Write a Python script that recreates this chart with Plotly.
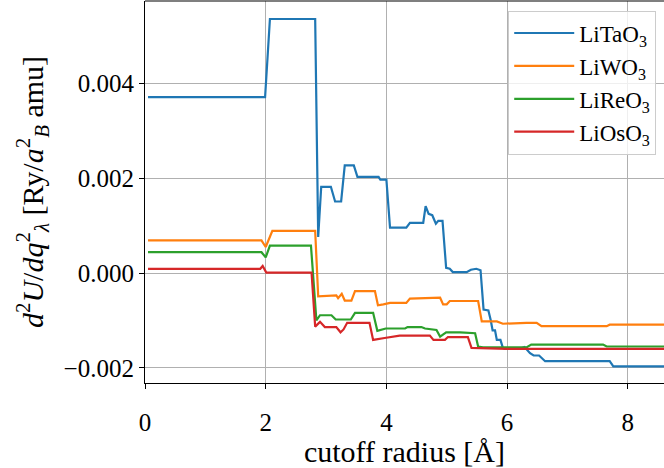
import plotly.graph_objects as go

# ---- data (values in units of 1e-3 Ry/(a_B^2 amu)) ----
names = ["LiTaO<sub>3</sub>", "LiWO<sub>3</sub>", "LiReO<sub>3</sub>", "LiOsO<sub>3</sub>"]
colors = ["#1f77b4", "#ff7f0e", "#2ca02c", "#d62728"]

ta_x = [0.05, 1.99, 2.07, 2.82, 2.87, 2.92, 3.08, 3.15, 3.25, 3.31, 3.46, 3.52, 3.87, 3.90, 4.0, 4.06,
        4.33, 4.39, 4.61, 4.65, 4.70, 4.76, 4.82, 4.86, 4.93, 4.99, 5.05, 5.10, 5.33, 5.40, 5.49, 5.56,
        5.61, 5.69, 5.73, 5.76, 5.80, 5.83, 5.89, 5.93, 5.96, 6.21, 6.29, 6.38, 6.44, 6.53, 6.63, 7.70,
        7.76, 8.6]
ta_y = [3.71, 3.71, 5.36, 5.36, 0.76, 1.82, 1.82, 1.51, 1.51, 2.27, 2.27, 2.03, 2.03, 1.97, 1.97, 0.96,
        0.96, 1.06, 1.06, 1.41, 1.25, 1.22, 1.04, 1.10, 1.10, 0.11, 0.09, 0.02, 0.02, 0.07, 0.09, 0.06,
        -0.77, -0.79, -1.00, -1.21, -1.21, -1.41, -1.41, -1.58, -1.60, -1.60, -1.56, -1.69, -1.74, -1.74,
        -1.86, -1.86, -1.97, -1.97]

w_x = [0.05, 1.93, 2.0, 2.11, 2.82, 2.87, 3.17, 3.20, 3.26, 3.31, 3.42, 3.48, 3.81, 3.86, 3.95, 4.06,
       4.33, 4.39, 4.89, 4.94, 5.0, 5.05, 5.52, 5.58, 5.83, 5.93, 6.32, 6.49, 6.57, 7.65, 7.70, 8.6]
w_y = [0.69, 0.69, 0.55, 0.89, 0.89, -0.49, -0.47, -0.53, -0.44, -0.58, -0.58, -0.38, -0.38, -0.68,
       -0.66, -0.63, -0.63, -0.54, -0.52, -0.66, -0.66, -0.59, -0.59, -1.02, -1.02, -1.07, -1.05, -1.05,
       -1.12, -1.12, -1.09, -1.09]

re_x = [0.05, 1.93, 2.0, 2.07, 2.75, 2.84, 2.90, 3.09, 3.16, 3.41, 3.48, 3.78, 3.85, 3.99, 4.31, 4.35,
        4.58, 4.64, 4.83, 4.89, 4.99, 5.22, 5.47, 5.52, 5.60, 6.32, 6.40, 7.59, 7.65, 8.6]
re_y = [0.44, 0.44, 0.33, 0.58, 0.58, -1.00, -0.89, -0.89, -0.98, -0.98, -0.84, -0.84, -1.22, -1.17,
        -1.17, -1.14, -1.14, -1.17, -1.20, -1.34, -1.25, -1.25, -1.27, -1.55, -1.57, -1.57, -1.51, -1.51,
        -1.55, -1.55]

os_x = [0.05, 1.91, 1.95, 2.01, 2.76, 2.82, 2.90, 2.98, 3.17, 3.24, 3.29, 3.35, 3.72, 3.78, 3.97, 4.22,
        4.72, 4.78, 4.97, 5.02, 5.35, 5.41, 6.0, 8.6]
os_y = [0.09, 0.09, 0.15, 0.01, 0.01, -1.13, -1.03, -1.14, -1.14, -1.25, -1.19, -1.05, -1.05, -1.41,
        -1.37, -1.32, -1.32, -1.41, -1.41, -1.35, -1.35, -1.58, -1.60, -1.60]

x_ticks = [0, 2, 4, 6, 8]
y_ticks = [-0.002, 0.0, 0.002, 0.004]
y_ticktext = ["\u22120.002", "0.000", "0.002", "0.004"]

series = [(ta_x, ta_y), (w_x, w_y), (re_x, re_y), (os_x, os_y)]

fig = go.Figure()
for (xs, ys), name, c in zip(series, names, colors):
    fig.add_trace(go.Scatter(x=xs, y=[v * 1e-3 for v in ys], mode="lines", name=name,
                             line=dict(color=c, width=2.2)))

font_family = "Liberation Serif"
fig.update_layout(
    width=664, height=468,
    margin=dict(l=145, r=0, t=1, b=85),
    paper_bgcolor="white", plot_bgcolor="white",
    font=dict(family=font_family, size=25, color="black"),
    showlegend=True,
    legend=dict(x=0.985, y=0.975, xanchor="right", yanchor="top",
                bgcolor="rgba(255,255,255,0.8)", bordercolor="#cccccc", borderwidth=1,
                font=dict(size=23), itemwidth=60, tracegroupgap=0),
)
fig.update_xaxes(range=[0, 8.6], tickvals=x_ticks, showgrid=True, gridcolor="#b0b0b0", gridwidth=1,
                 showline=True, linecolor="black", linewidth=1.2, ticks="outside", ticklen=5,
                 tickcolor="black", zeroline=False, ticklabelstandoff=12,
                 title=dict(text="cutoff radius [Å]", standoff=2))
fig.update_yaxes(range=[-0.00232, 0.00574], tickvals=y_ticks, ticktext=y_ticktext, showgrid=True,
                 gridcolor="#b0b0b0", gridwidth=1, showline=True, linecolor="black", linewidth=1.2,
                 ticks="outside", ticklen=5, tickcolor="black", zeroline=False,
                 title=dict(text="<i>d</i><sup>2</sup><i>U</i>/<i>dq</i><sup>2</sup><sub><i>λ</i></sub> [Ry/<i>a</i><sup>2</sup><sub><i>B</i></sub> amu]",
                            standoff=11))
fig.add_shape(type="line", xref="paper", yref="paper", x0=0, x1=1, y0=1, y1=1,
              line=dict(color="black", width=1.2))

fig.write_html("out.html", config={"displayModeBar": False},
               post_script="document.body.style.margin='0';document.body.style.overflow='hidden';")
